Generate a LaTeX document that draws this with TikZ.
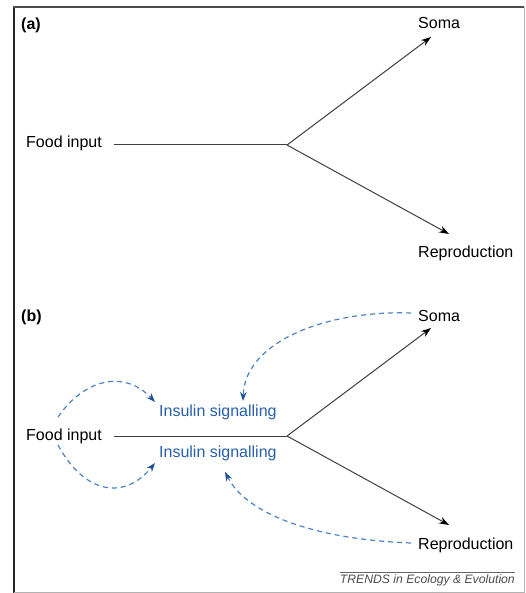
\documentclass[tikz,border=0pt]{standalone}
\usepackage{fontspec}
\setmainfont{Liberation Sans}
\usetikzlibrary{arrows.meta}
\definecolor{txtblue}{RGB}{40,95,170}
\definecolor{dashblue}{RGB}{75,130,195}
\definecolor{tipblue}{RGB}{30,80,155}
\tikzset{
  lbl/.style={anchor=base west,inner sep=0pt,font=\fontsize{16}{19}\selectfont},
  panel/.style={anchor=base west,inner sep=0pt,font=\fontsize{16}{19}\selectfont\bfseries},
  bluelbl/.style={lbl,text=txtblue},
  flow/.style={draw=black!75,line width=1pt},
  flowarrow/.style={flow,-{Stealth[length=10pt,width=7pt,color=black]}},
  feedback/.style={draw=dashblue,line width=1.2pt,dash pattern=on 5pt off 4pt,
    -{Stealth[length=9pt,width=6.5pt,color=tipblue]}}
}
\begin{document}
\begin{tikzpicture}[x=1pt,y=-1pt]
\useasboundingbox (0,0) rectangle (526,593);
% frame
\draw[black!85,line width=1.6pt] (14,6.5) -- (14,593);
\draw[black!70,line width=1.4pt] (13.2,7.2) -- (524,7.2);
\draw[black!30,line width=0.9pt] (524,7.2) -- (524,592) -- (14,592);

% ---------- panel (a)
\node[panel] (pa) at (21,30) {(a)};
\node[lbl] (foodA) at (26,148) {Food input};
\node[lbl] (somaA) at (418,29) {Soma};
\node[lbl] (reprA) at (418,258) {Reproduction};
\coordinate (JA) at (287,145);
\coordinate (tipSA) at (431,37);
\coordinate (tipRA) at (449,234);
\draw[flow,shorten <=12pt] (foodA.east |- JA) -- (JA);
\draw[flowarrow] (JA) -- (tipSA);
\draw[flowarrow] (JA) -- (tipRA);

% ---------- panel (b)
\node[panel] (pb) at (21,321) {(b)};
\node[lbl] (foodB) at (26,440) {Food input};
\node[lbl] (somaB) at (418,321) {Soma};
\node[lbl] (reprB) at (418,549) {Reproduction};
\node[bluelbl] (insU) at (159,416) {Insulin signalling};
\node[bluelbl] (insL) at (159,457) {Insulin signalling};
\coordinate (JB) at (287,436);
\coordinate (tipSB) at (431,328);
\coordinate (tipRB) at (449,525);
\draw[flow,shorten <=12pt] (foodB.east |- JB) -- (JB);
\draw[flowarrow] (JB) -- (tipSB);
\draw[flowarrow] (JB) -- (tipRB);

% feedback curves
\coordinate (fU) at (58,417);
\coordinate (fL) at (58,445);
\coordinate (iU) at (155,402);
\coordinate (iL) at (155,463);
\coordinate (sS) at (411,313);
\coordinate (sT) at (243,401);
\coordinate (rS) at (411,543);
\coordinate (rT) at (225,472);
\draw[feedback] (fU) .. controls (85,378) and (125,370) .. (iU);
\draw[feedback] (fL) .. controls (85,495) and (125,500) .. (iL);
\draw[feedback] (sS) .. controls (330,310) and (245,340) .. (sT);
\draw[feedback] (rS) .. controls (330,540) and (250,520) .. (rT);

% credit
\node[anchor=base east,inner sep=0pt,font=\fontsize{12.2}{14}\selectfont\itshape,text=black!70] (credit) at (515,583) {TRENDS in Ecology \& Evolution};
\draw[black!60,line width=0.8pt] (credit.west |- 0,572) -- (credit.east |- 0,572);
\end{tikzpicture}
\end{document}
